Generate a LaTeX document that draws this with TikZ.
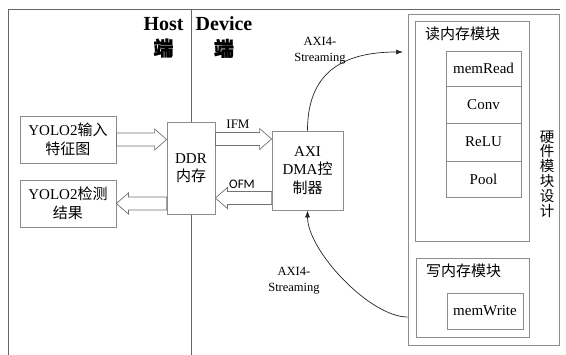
\documentclass[tikz,border=0pt]{standalone}
\usepackage{fontspec}
\setmainfont{Liberation Serif}
\newfontfamily\cjk{Noto Sans CJK SC}
\newfontfamily\cjkbold[FakeBold=1]{Noto Sans CJK SC}
\newfontfamily\calib{Carlito}
\usetikzlibrary{arrows.meta,calc}

% wide hollow arrow between two points on the same height
\newcommand\fatarrow[2]{%
  \draw[fat] let \p1=(#1), \p2=(#2), \n1={ifthenelse(\x2>\x1,1,-1)} in
    (\x1,\y1-6.5pt) -- (\x2-\n1*12pt,\y1-6.5pt) -- (\x2-\n1*12pt,\y1-10.5pt)
    -- (\x2,\y1) -- (\x2-\n1*12pt,\y1+10.5pt) -- (\x2-\n1*12pt,\y1+6.5pt)
    -- (\x1,\y1+6.5pt) -- cycle;}

\tikzset{
  frameline/.style={draw=black!60, line width=0.8pt},
  box/.style={draw=black!45, line width=0.8pt, fill=white, align=center,
    inner sep=0pt, font=\fontsize{15}{18.5}\selectfont},
  fat/.style={draw=black!55, line width=0.7pt, fill=white},
  curve/.style={draw=black!85, line width=0.7pt, -{Latex[length=7pt,width=5pt]}},
  head/.style={align=center, inner sep=0pt, font=\fontsize{20}{25}\selectfont\bfseries},
  streamlbl/.style={align=center, inner sep=0pt, font=\fontsize{12.5}{16}\selectfont},
  modlbl/.style={anchor=west, inner sep=0pt, font=\fontsize{15}{18}\selectfont\cjk},
}

\begin{document}
\begin{tikzpicture}[x=1pt,y=-1pt]
  \useasboundingbox[fill=white] (0,0) rectangle (566,355);

  % frame and host/device divider
  \draw[frameline] (8,355) -- (8,9) -- (560,9);
  \draw[frameline] (191,9) -- (191,355);

  \node[head] (host) at (163.5,37.5) {Host\\{\cjkbold 端}};
  \node[head] (dev) at (224,37.5) {Device\\{\cjkbold 端}};

  % host side
  \node[box, minimum width=96pt, minimum height=47pt] (inp) at (68,139.5)
    {YOLO2{\cjk 输入}\\{\cjk 特征图}};
  \node[box, minimum width=96pt, minimum height=47pt] (res) at (68,203.5)
    {YOLO2{\cjk 检测}\\{\cjk 结果}};
  \node[box, minimum width=48pt, minimum height=92pt] (ddr) at (191,168)
    {DDR\\{\cjk 内存}};

  % device side
  \node[box, minimum width=71pt, minimum height=79pt] (axi) at (307.5,170.5)
    {AXI\\DMA{\cjk 控}\\{\cjk 制器}};

  \node[box, minimum width=151pt, minimum height=331pt] (hw) at (483.5,179.5) {};
  \node[box, minimum width=114pt, minimum height=220pt] (rd) at (472,131) {};
  \node[box, minimum width=113pt, minimum height=79pt] (wr) at (472.5,297.5) {};
  \node[modlbl] (rdlbl) at (425,34) {读内存模块};
  \node[modlbl] (wrlbl) at (426,271) {写内存模块};

  \node[box, minimum width=75pt, minimum height=35pt] (mread) at (483.5,68.5) {memRead};
  \node[box, minimum width=75pt, minimum height=37pt] (conv) at (483.5,104.5) {Conv};
  \node[box, minimum width=75pt, minimum height=38pt] (relu) at (483.5,142) {ReLU};
  \node[box, minimum width=75pt, minimum height=36pt] (pool) at (483.5,179) {Pool};
  \node[box, minimum width=76pt, minimum height=36pt] (mwrite) at (485,311) {memWrite};

  \node[align=center, inner sep=0pt, font=\fontsize{14.5}{14.8}\selectfont\cjk]
    (hwlbl) at (547,174) {硬\\件\\模\\块\\设\\计};

  % data movement between host memory and DMA
  \fatarrow{inp.east}{inp.east -| ddr.west}
  \fatarrow{ddr.east |- 0,139}{axi.west |- 0,139}
  \fatarrow{axi.west |- 0,198}{ddr.east |- 0,198}
  \fatarrow{ddr.west |- res.east}{res.east}
  \node[inner sep=0pt, font=\fontsize{13}{13}\selectfont] (ifm) at (238,124) {IFM};
  \node[inner sep=0pt, font=\fontsize{13}{13}\selectfont\calib] (ofm) at (242,184) {OFM};

  % AXI4-Streaming links
  \coordinate (uptip) at (403,52);
  \coordinate (wrfrom) at (hw.west |- 0,317);
  \draw[curve] (axi.north) .. controls +(0,-56) and +(-63,0) .. (uptip);
  \draw[curve] (wrfrom) .. controls +(-38,0) and +(0,40) .. (axi.south);
  \node[streamlbl] (s1) at (320,51) {AXI4-\\Streaming};
  \node[streamlbl] (s2) at (294,281) {AXI4-\\Streaming};
\end{tikzpicture}
\end{document}
